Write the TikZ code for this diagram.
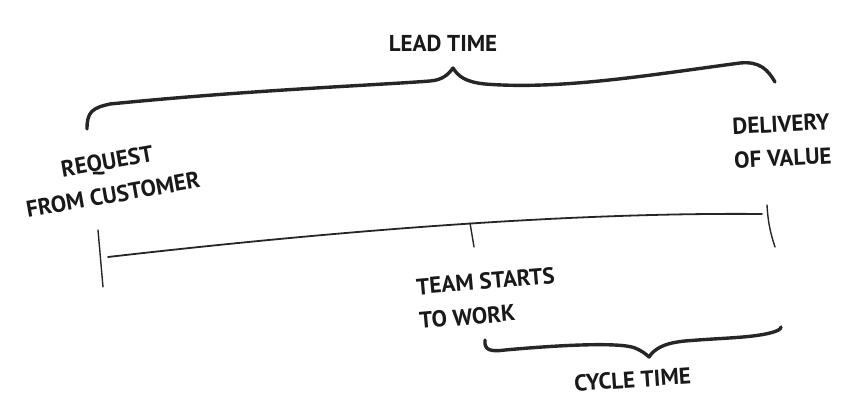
\documentclass[tikz,border=0pt]{standalone}
\usepackage{fontspec}
\setmainfont{PT Sans}
\usetikzlibrary{positioning}

\begin{document}
\begin{tikzpicture}[
  x=1pt,
  y=-1pt,
  label/.style={
    align=left,
    inner sep=0pt,
    text=black!90,
    font=\bfseries\fontsize{23}{34}\selectfont
  },
  brace/.style={
    line width=3.4pt,
    line cap=round,
    line join=round,
    draw=black!85
  },
  timeline/.style={
    line width=1.8pt,
    line cap=round,
    draw=black!85
  },
  tickmark/.style={
    line width=1.4pt,
    line cap=round,
    draw=black!85
  }
]
  \useasboundingbox (0,0) rectangle (843,412);

  \coordinate (start) at (108,257);
  \coordinate (work) at (470,223);
  \coordinate (done) at (762,214);

  \coordinate (lead-l) at (87,129);
  \coordinate (lead-tip) at (453,68);
  \coordinate (lead-r) at (775,82);

  \coordinate (cycle-l) at (485,340);
  \coordinate (cycle-tip) at (649,357);
  \coordinate (cycle-r) at (781,327);

  \node[label,above=16pt of lead-tip,xshift=-10pt] (lead) {LEAD TIME};
  \node[label,below=14pt of cycle-tip,xshift=-17pt,rotate=4] (cycle) {CYCLE TIME};

  \node[label,align=center,rotate=10] (request) at (110,178) {REQUEST\\FROM CUSTOMER};
  \node[label,rotate=3] (delivery) at (782,141) {DELIVERY\\OF VALUE};
  \node[label,rotate=5] (team) at (487,298) {TEAM STARTS\\TO WORK};

  \draw[timeline] (start) .. controls (300,235) and (550,212) .. (done);
  \draw[tickmark] (98,230) -- (103,287);
  \draw[tickmark] (work) -- (474,247);
  \draw[tickmark] (767,205) .. controls (768,225) and (772,238) .. (775,247);

  \draw[brace] (lead-l) .. controls (87,112) and (92,108) .. (110,104)
    .. controls (250,90) and (380,85) .. (430,81)
    .. controls (442,80) and (448,75) .. (lead-tip)
    .. controls (458,76) and (465,82) .. (485,84)
    .. controls (560,90) and (650,75) .. (740,63)
    .. controls (760,61) and (768,70) .. (lead-r);

  \draw[brace] (cycle-l) .. controls (484,350) and (490,352) .. (505,350)
    .. controls (560,345) and (620,342) .. (635,348)
    .. controls (642,351) and (646,354) .. (cycle-tip)
    .. controls (655,348) and (665,343) .. (685,341)
    .. controls (720,338) and (750,338) .. (770,333)
    .. controls (778,331) and (781,329) .. (cycle-r);

\end{tikzpicture}
\end{document}
